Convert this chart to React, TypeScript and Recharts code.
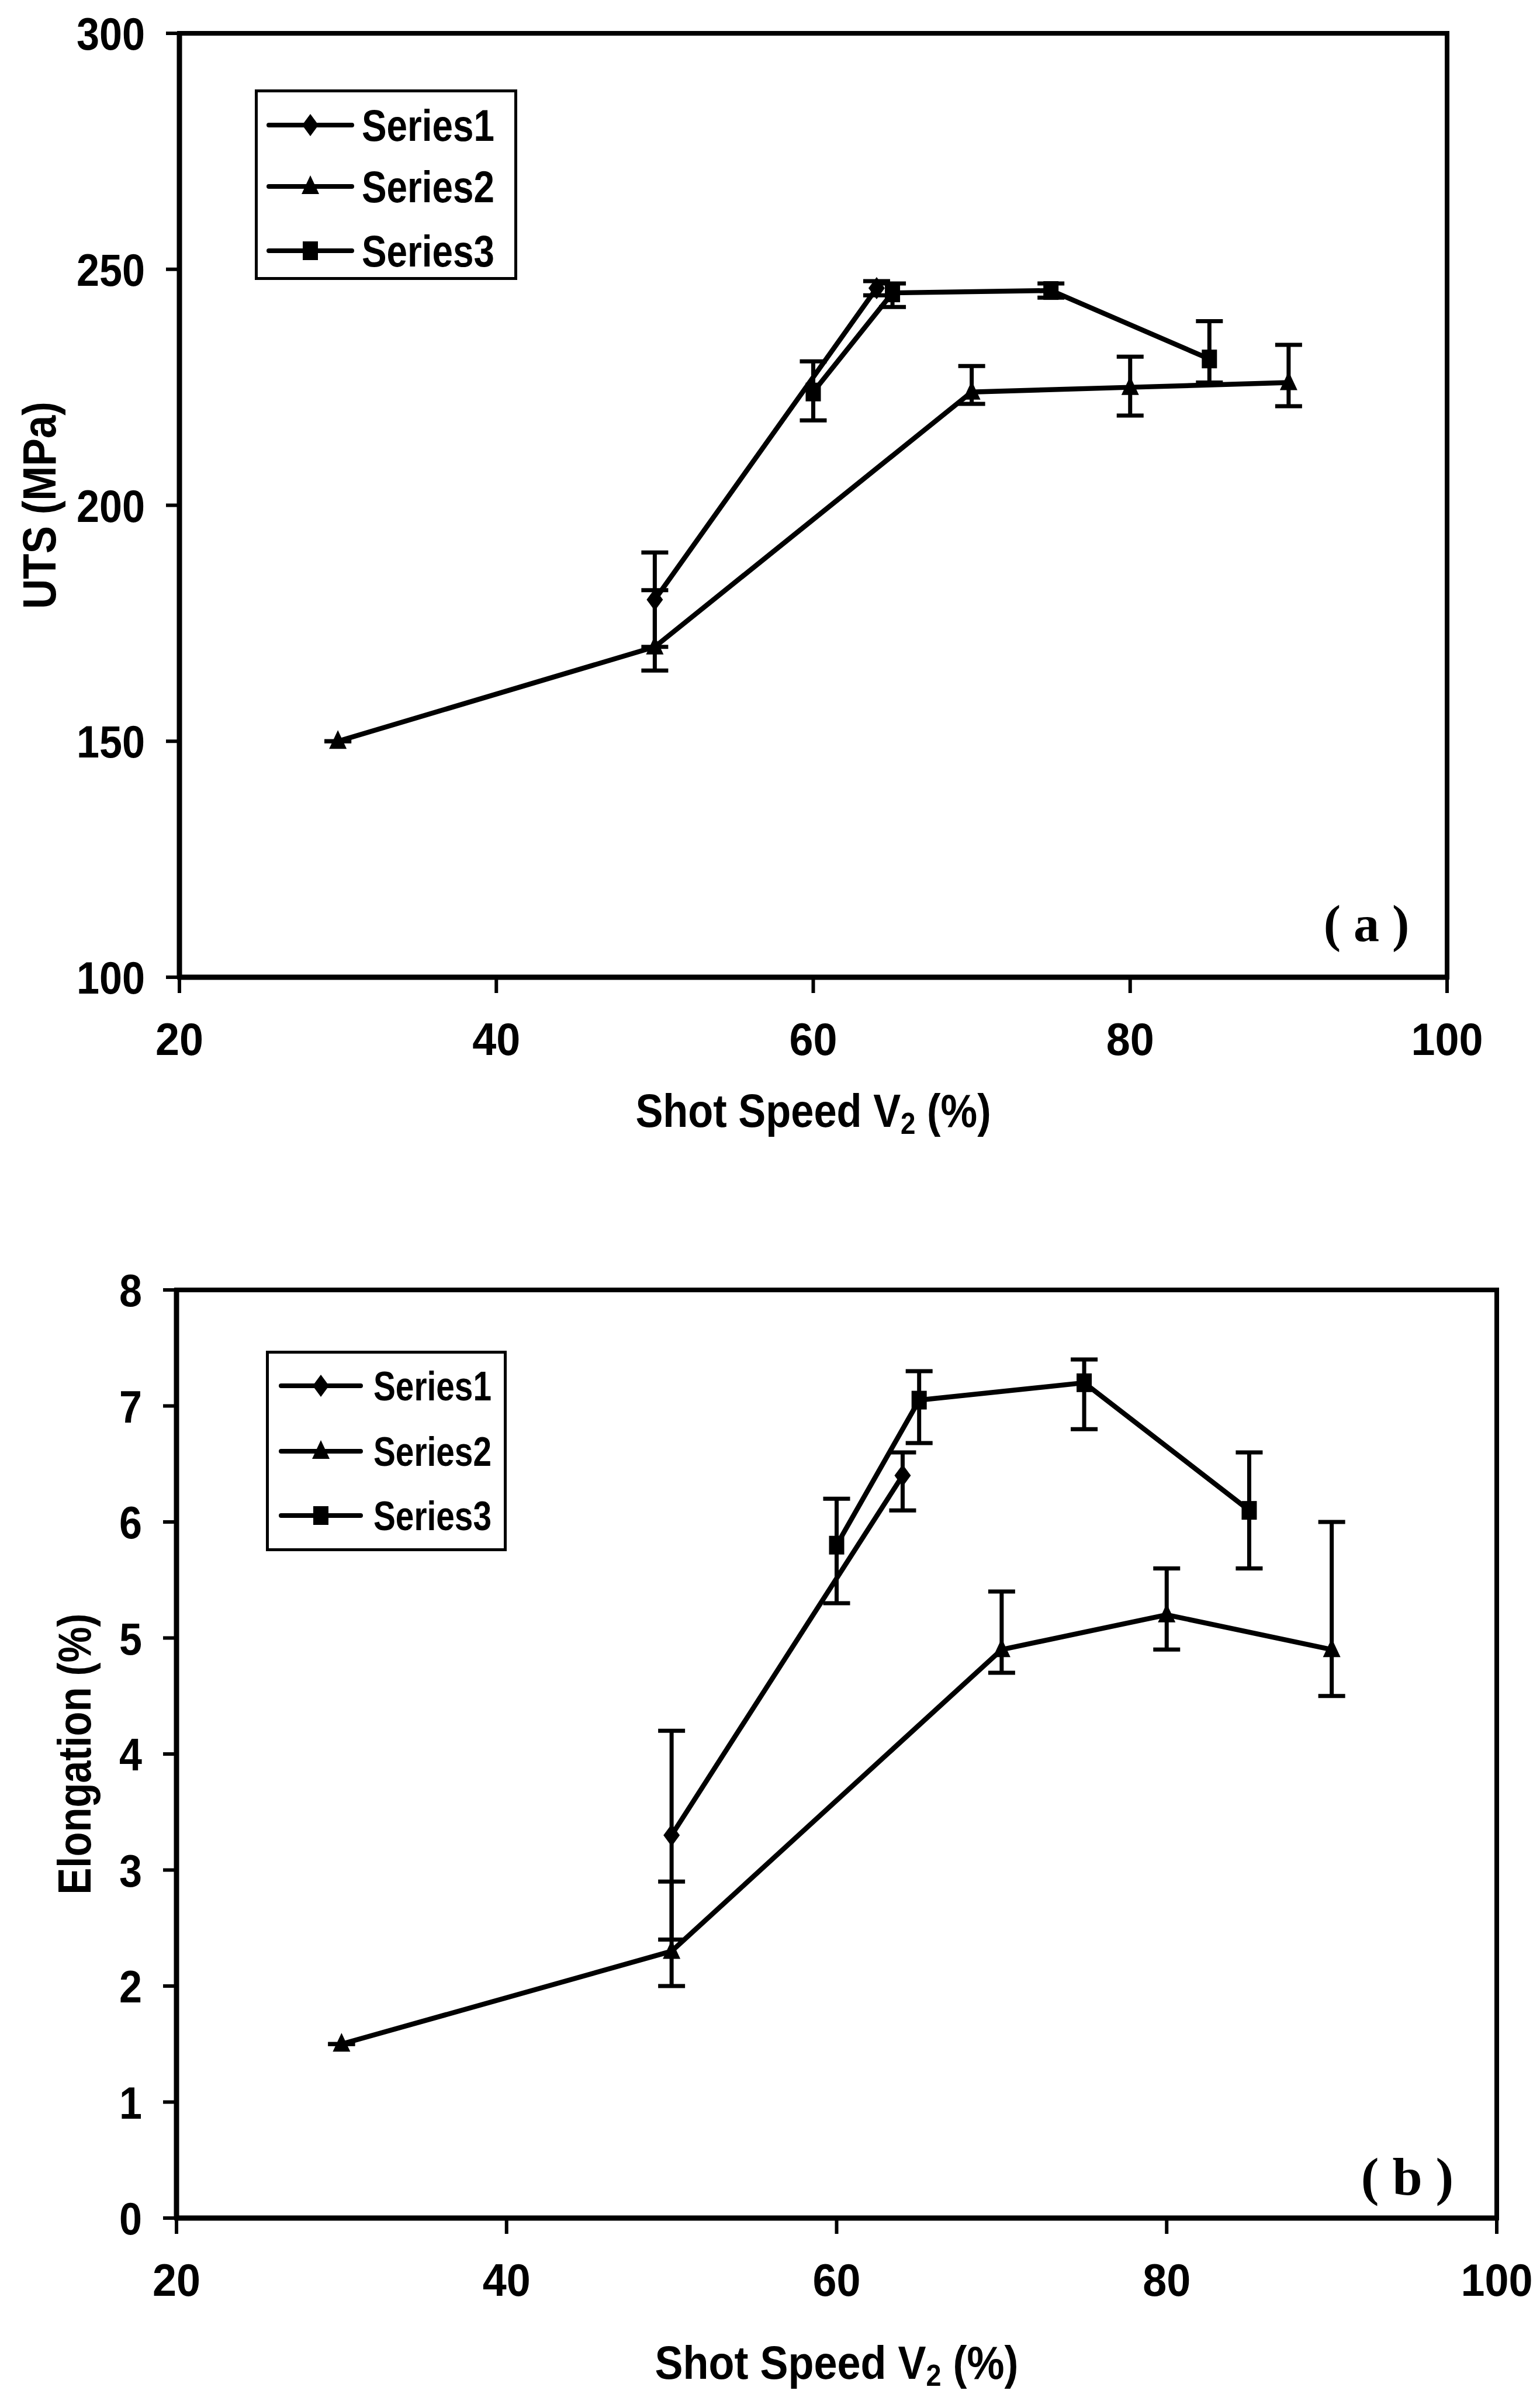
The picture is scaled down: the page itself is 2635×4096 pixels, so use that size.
import React from 'react';
import { LineChart, Line, XAxis, YAxis, ErrorBar, Legend, ReferenceArea } from 'recharts';

const FONT = "'Liberation Sans', Arial, sans-serif";
const SERIF = "'Liberation Serif', 'Times New Roman', serif";

// ---------- shared ----------
const speedTicks = [20, 40, 60, 80, 100];
const seriesNames = ['Series1', 'Series2', 'Series3'];
const seriesShapes = ['diamond', 'triangle', 'square'];

// ---------- panel (a): UTS ----------
const utsTicks = [100, 150, 200, 250, 300];
const uts1Speed = [50, 64];
const uts1Value = [180, 246];
const uts1ErrLow = [10, 1.5];
const uts1ErrHigh = [10, 1.5];
const uts2Speed = [30, 50, 70, 80, 90];
const uts2Value = [150, 170, 224, 225, 226];
const uts2ErrLow = [0, 5, 2.5, 6, 5];
const uts2ErrHigh = [0, 12, 5.5, 6.5, 8];
const uts3Speed = [60, 65, 75, 85];
const uts3Value = [224, 245, 245.5, 231];
const uts3ErrLow = [6, 3, 1.5, 5];
const uts3ErrHigh = [6.5, 2, 1.5, 8];

// ---------- panel (b): Elongation ----------
const eloTicks = [0, 1, 2, 3, 4, 5, 6, 7, 8];
const elo1Speed = [50, 64];
const elo1Value = [3.3, 6.4];
const elo1ErrLow = [0.9, 0.3];
const elo1ErrHigh = [0.9, 0.2];
const elo2Speed = [30, 50, 70, 80, 90];
const elo2Value = [1.5, 2.3, 4.9, 5.2, 4.9];
const elo2ErrLow = [0, 0.3, 0.2, 0.3, 0.4];
const elo2ErrHigh = [0, 0.6, 0.5, 0.4, 1.1];
const elo3Speed = [60, 65, 75, 85];
const elo3Value = [5.8, 7.05, 7.2, 6.1];
const elo3ErrLow = [0.5, 0.37, 0.4, 0.5];
const elo3ErrHigh = [0.4, 0.25, 0.2, 0.5];

const build = (sp: number[], v: number[], lo: number[], hi: number[]) =>
  sp.map((s, i) => ({ speed: s, value: v[i], err: [lo[i], hi[i]] }));

const utsData = [
  build(uts1Speed, uts1Value, uts1ErrLow, uts1ErrHigh),
  build(uts2Speed, uts2Value, uts2ErrLow, uts2ErrHigh),
  build(uts3Speed, uts3Value, uts3ErrLow, uts3ErrHigh),
];
const eloData = [
  build(elo1Speed, elo1Value, elo1ErrLow, elo1ErrHigh),
  build(elo2Speed, elo2Value, elo2ErrLow, elo2ErrHigh),
  build(elo3Speed, elo3Value, elo3ErrLow, elo3ErrHigh),
];

function Marker({ shape, cx, cy }: { shape: string; cx: number; cy: number }) {
  if (shape === 'diamond')
    return <polygon points={`${cx},${cy - 19} ${cx + 14},${cy} ${cx},${cy + 19} ${cx - 14},${cy}`} fill="#000" />;
  if (shape === 'triangle')
    return <polygon points={`${cx},${cy - 19} ${cx + 15},${cy + 13} ${cx - 15},${cy + 13}`} fill="#000" />;
  return <rect x={cx - 13} y={cy - 16} width={26} height={32} fill="#000" />;
}

const makeDot = (shape: string) => (props: any) => {
  const { cx, cy, index } = props;
  if (cx == null || cy == null) return <g key={`${shape}-${index}`} />;
  return <Marker key={`${shape}-${index}`} shape={shape} cx={cx} cy={cy} />;
};

type LegendCfg = { w: number; h: number; ys: number[]; lx1: number; lx2: number; tx: number; font: number; textW: number };

const LEGEND_PAD = 140;

const makeLegend = (cfg: LegendCfg) => (props: any) => {
  const payload = (props && props.payload && props.payload.length ? props.payload : seriesNames.map((n) => ({ value: n }))) as any[];
  return (
    <svg width={cfg.w + LEGEND_PAD} height={cfg.h} style={{ display: 'block', overflow: 'visible' }}>
      <rect x={2.5} y={2.5} width={cfg.w - 5} height={cfg.h - 5} fill="#fff" stroke="#000" strokeWidth={5} />
      {payload.map((p, i) => {
        const idx = Math.max(0, seriesNames.indexOf(p.value));
        const y = cfg.ys[i];
        return (
          <g key={p.value}>
            <line x1={cfg.lx1} x2={cfg.lx2} y1={y} y2={y} stroke="#000" strokeWidth={8} strokeLinecap="round" />
            <Marker shape={seriesShapes[idx]} cx={(cfg.lx1 + cfg.lx2) / 2} cy={y} />
            <text x={cfg.tx} y={y} dy="0.36em" fontFamily={FONT} fontWeight="bold" fontSize={cfg.font} fill="#000"
              textLength={cfg.textW} lengthAdjust="spacingAndGlyphs">
              {p.value}
            </text>
          </g>
        );
      })}
    </svg>
  );
};

const makeXLabel = (titleDy: number, titleScale: number, tag: string, tagFromRight: number, tagDy: number, tagFont: number, titleFont: number) =>
  (props: any) => {
    const vb = props.viewBox || {};
    const cx = vb.x + vb.width / 2;
    const by = vb.y + titleDy;
    return (
      <g>
        <g transform={`translate(${cx}, ${by}) scale(${titleScale}, 1)`}>
          <text x={0} y={0} textAnchor="middle" fontFamily={FONT} fontWeight="bold" fontSize={titleFont} fill="#000">
            <tspan>Shot Speed V</tspan>
            <tspan fontSize={titleFont * 0.65} dy={12}>2</tspan>
            <tspan dy={-12}> (%)</tspan>
          </text>
        </g>
        <text x={vb.x + vb.width - tagFromRight} y={vb.y + tagDy} textAnchor="middle" fontFamily={SERIF} fontWeight="bold" fontSize={tagFont} fill="#000">
          {tag}
        </text>
      </g>
    );
  };

const makeYLabel = (text: string, offsetX: number, font: number, len: number) => (props: any) => {
  const vb = props.viewBox || {};
  const cx = vb.x + offsetX;
  const cy = vb.y + vb.height / 2;
  return (
    <text x={cx} y={cy} transform={`rotate(-90, ${cx}, ${cy})`} textAnchor="middle" dominantBaseline="central"
      fontFamily={FONT} fontWeight="bold" fontSize={font} fill="#000" textLength={len} lengthAdjust="spacingAndGlyphs">
      {text}
    </text>
  );
};

const makeTick = (anchor: 'middle' | 'end', digitW: number, font: number) => (props: any) => {
  const { x, y, payload } = props;
  const s = String(payload.value);
  return (
    <text x={x} y={y} textAnchor={anchor} dy={anchor === 'end' ? '0.36em' : '0.72em'} fontFamily={FONT} fontWeight="bold"
      fontSize={font} fill="#000" textLength={s.length * digitW} lengthAdjust="spacingAndGlyphs">
      {s}
    </text>
  );
};

function Panel(props: {
  data: any[][];
  yDomain: [number, number];
  yTicks: number[];
  width: number;
  height: number;
  margin: any;
  yAxisWidth: number;
  xAxisHeight: number;
  yLabel: string;
  yLabelX: number;
  yLabelLen: number;
  titleDy: number;
  titleScale: number;
  tag: string;
  tagFromRight: number;
  tagDy: number;
  tagFont: number;
  legend: LegendCfg;
  legendPos: { left: number; top: number };
}) {
  const p = props;
  return (
    <LineChart width={p.width} height={p.height} margin={p.margin}>
      <XAxis
        dataKey="speed"
        type="number"
        domain={[20, 100]}
        ticks={speedTicks}
        interval={0}
        allowDuplicatedCategory={false}
        height={p.xAxisHeight}
        tick={makeTick('middle', 41, 78)}
        tickSize={27}
        tickMargin={50}
        tickLine={{ stroke: '#000', strokeWidth: 6 }}
        axisLine={{ stroke: '#000', strokeWidth: 9 }}
        label={makeXLabel(p.titleDy, p.titleScale, p.tag, p.tagFromRight, p.tagDy, p.tagFont, 80)}
      />
      <YAxis
        type="number"
        domain={p.yDomain}
        ticks={p.yTicks}
        interval={0}
        width={p.yAxisWidth}
        tick={makeTick('end', 39, 78)}
        tickSize={23}
        tickMargin={36}
        tickLine={{ stroke: '#000', strokeWidth: 6 }}
        axisLine={{ stroke: '#000', strokeWidth: 9 }}
        label={makeYLabel(p.yLabel, p.yLabelX, 80, p.yLabelLen)}
      />
      <ReferenceArea x1={20} x2={100} y1={p.yDomain[0]} y2={p.yDomain[1]} fill="none" fillOpacity={0} stroke="#000" strokeWidth={8} ifOverflow="visible" />
      <Legend
        layout="horizontal"
        verticalAlign="middle"
        align="center"
        width={p.legend.w + LEGEND_PAD}
        height={p.legend.h}
        wrapperStyle={{ left: p.legendPos.left, top: p.legendPos.top, width: p.legend.w + LEGEND_PAD, height: p.legend.h, overflow: 'visible' }}
        content={makeLegend(p.legend)}
      />
      {p.data.map((d, i) => (
        <Line
          key={seriesNames[i]}
          name={seriesNames[i]}
          data={d}
          dataKey="value"
          type="linear"
          stroke="#000"
          strokeWidth={8.5}
          dot={makeDot(seriesShapes[i])}
          activeDot={false}
          isAnimationActive={false}
        >
          <ErrorBar dataKey="err" direction="y" width={23} stroke="#000" strokeWidth={7} isAnimationActive={false} />
        </Line>
      ))}
    </LineChart>
  );
}

export default function App() {
  return (
    <div style={{ position: 'absolute', left: 0, top: 0, width: 2635, height: 4096, background: '#fff' }}>
      <div style={{ position: 'absolute', left: 0, top: 0 }}>
        <Panel
          data={utsData}
          yDomain={[100, 300]}
          yTicks={utsTicks}
          width={2635}
          height={1990}
          margin={{ top: 57, right: 159, bottom: 18, left: 20 }}
          yAxisWidth={287}
          xAxisHeight={300}
          yLabel="UTS (MPa)"
          yLabelX={47}
          yLabelLen={355}
          titleDy={256}
          titleScale={0.88}
          tag="( a )"
          tagFromRight={138}
          tagDy={-62}
          tagFont={88}
          legend={{ w: 449, h: 326, ys: [61, 166, 276], lx1: 24, lx2: 166, tx: 183, font: 76, textW: 227 }}
          legendPos={{ left: 436, top: 153 }}
        />
      </div>
      <div style={{ position: 'absolute', left: 0, top: 2150 }}>
        <Panel
          data={eloData}
          yDomain={[0, 8]}
          yTicks={eloTicks}
          width={2635}
          height={1946}
          margin={{ top: 57, right: 74, bottom: 11, left: 20 }}
          yAxisWidth={282}
          xAxisHeight={290}
          yLabel="Elongation (%)"
          yLabelX={107}
          yLabelLen={481}
          titleDy={275}
          titleScale={0.9}
          tag="( b )"
          tagFromRight={153}
          tagDy={-40}
          tagFont={92}
          legend={{ w: 412, h: 343, ys: [60, 172, 282], lx1: 26, lx2: 162, tx: 184, font: 70, textW: 202 }}
          legendPos={{ left: 455, top: 161 }}
        />
      </div>
    </div>
  );
}
